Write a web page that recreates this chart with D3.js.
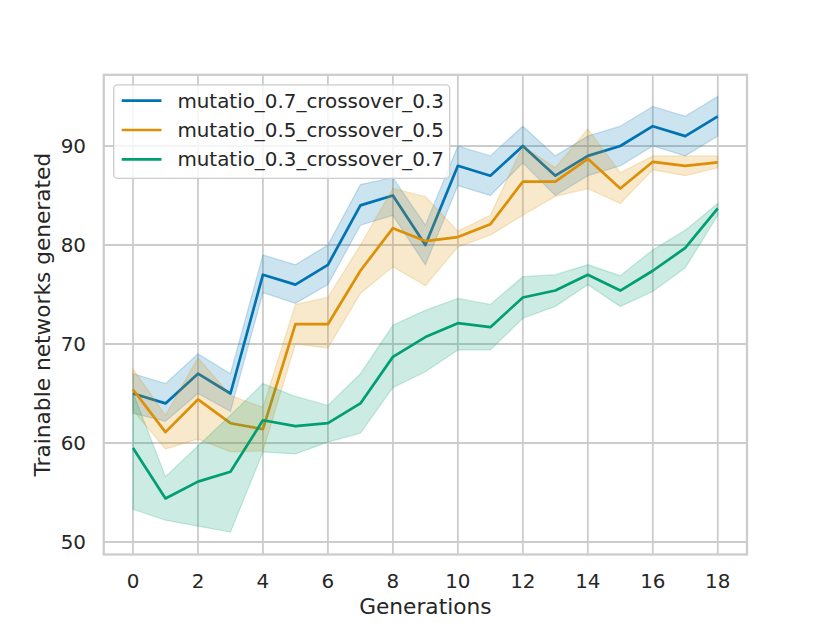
<!DOCTYPE html>
<html>
<head>
<meta charset="utf-8">
<script src="https://cdn.jsdelivr.net/npm/d3@7"></script>
<style>
    body { margin: 0; background: #fff; }
    text { font-family: "DejaVu Sans", sans-serif; fill: #262626; }
</style>
</head>
<body>
<div class="svg"></div>
<script>
var generations = [0, 1, 2, 3, 4, 5, 6, 7, 8, 9, 10, 11, 12, 13, 14, 15, 16, 17, 18];
var xTicks = [0, 2, 4, 6, 8, 10, 12, 14, 16, 18];
var yTicks = [50, 60, 70, 80, 90];

var seriesNames = ["mutatio_0.7_crossover_0.3", "mutatio_0.5_crossover_0.5", "mutatio_0.3_crossover_0.7"];

var blueMean = [65, 64, 67, 65, 77, 76, 78, 84, 85, 80, 88, 87, 90, 87, 89, 90, 92, 91, 93];
var blueLow = [63, 62.2, 65, 63.2, 75.2, 74.1, 76, 82, 83, 78, 86, 85, 88.3, 85, 87, 88, 90, 89, 91];
var blueHigh = [67, 66, 69, 67, 79, 78, 80, 86.1, 86.8, 82, 90, 89, 92, 89, 91, 92, 94, 93, 95];

var orangeMean = [65.4, 61.1, 64.4, 62.0, 61.4, 72.0, 72.0, 77.4, 81.7, 80.4, 80.8, 82.1, 86.4, 86.4, 88.7, 85.7, 88.4, 88.0, 88.35];
var orangeLow = [63.3, 59.4, 60.4, 59.1, 59.2, 70, 69.6, 75.1, 77.8, 75.9, 79.8, 81, 83, 84.9, 85.7, 84.2, 87.6, 87, 87.8];
var orangeHigh = [67.5, 62.8, 68.6, 64.8, 63.6, 74, 74.7, 80, 85.7, 84.9, 81.4, 83, 90, 87.8, 91.7, 87.3, 89, 89, 89];

var greenMean = [59.5, 54.4, 56.1, 57.1, 62.3, 61.7, 62.0, 64.0, 68.7, 70.7, 72.1, 71.7, 74.7, 75.4, 77.0, 75.4, 77.4, 79.7, 83.7];
var greenLow = [53.3, 52.2, 51.6, 51.0, 59.1, 58.9, 60.1, 61.0, 65.6, 67.2, 69.4, 69.4, 72.6, 73.8, 76.0, 73.8, 75.3, 77.7, 83.0];
var greenHigh = [65.1, 56.6, 59.7, 62.8, 66.0, 64.7, 63.8, 67.0, 71.9, 73.4, 74.6, 74.0, 76.8, 77.0, 78.0, 76.9, 79.5, 81.5, 84.2];

var colors = ["#0173b2", "#de8f05", "#029e73"];

var width = 830,
    height = 623;
var pLeft = 103.75, pRight = 747, pTop = 74.8, pBottom = 554.5;

var svg = d3.select(".svg").append("svg")
    .attr("width", width)
    .attr("height", height);

var x = d3.scaleLinear().domain([-0.9, 18.9]).range([pLeft, pRight]);
var y = d3.scaleLinear().domain([48.74, 97.19]).range([pBottom, pTop]);

// grid
svg.append("g").selectAll("line")
    .data(xTicks)
    .enter().append("line")
    .attr("x1", function (d) { return x(d); })
    .attr("x2", function (d) { return x(d); })
    .attr("y1", pTop).attr("y2", pBottom)
    .attr("stroke", "#cccccc").attr("stroke-width", 1.8);
svg.append("g").selectAll("line")
    .data(yTicks)
    .enter().append("line")
    .attr("y1", function (d) { return y(d); })
    .attr("y2", function (d) { return y(d); })
    .attr("x1", pLeft).attr("x2", pRight)
    .attr("stroke", "#cccccc").attr("stroke-width", 1.8);

var series = [
    {mean: blueMean, low: blueLow, high: blueHigh},
    {mean: orangeMean, low: orangeLow, high: orangeHigh},
    {mean: greenMean, low: greenLow, high: greenHigh}
];

var line = d3.line()
    .x(function (d, i) { return x(generations[i]); })
    .y(function (d) { return y(d); });

series.forEach(function (s, k) {
    svg.append("path")
        .attr("d", line(s.mean))
        .attr("fill", "none")
        .attr("stroke", colors[k])
        .attr("stroke-width", 2.7)
        .attr("stroke-linejoin", "round");

    var band = d3.area()
        .x(function (d, i) { return x(generations[i]); })
        .y0(function (d, i) { return y(s.low[i]); })
        .y1(function (d, i) { return y(s.high[i]); });
    svg.append("path")
        .attr("d", band(s.mean))
        .attr("fill", colors[k])
        .attr("fill-opacity", 0.2)
        .attr("stroke", colors[k])
        .attr("stroke-opacity", 0.2)
        .attr("stroke-width", 1.3);
});

// frame
svg.append("rect")
    .attr("x", pLeft).attr("y", pTop)
    .attr("width", pRight - pLeft).attr("height", pBottom - pTop)
    .attr("fill", "none")
    .attr("stroke", "#cccccc")
    .attr("stroke-width", 2.25);

// tick labels
svg.append("g").selectAll("text")
    .data(xTicks)
    .enter().append("text")
    .attr("x", function (d) { return x(d); })
    .attr("y", 588)
    .attr("text-anchor", "middle")
    .style("font-size", "19.9px")
    .text(function (d) { return d; });
svg.append("g").selectAll("text")
    .data(yTicks)
    .enter().append("text")
    .attr("x", 86)
    .attr("y", function (d) { return y(d) + 7.2; })
    .attr("text-anchor", "end")
    .style("font-size", "19.9px")
    .text(function (d) { return d; });

// axis labels
svg.append("text")
    .attr("x", (pLeft + pRight) / 2)
    .attr("y", 614)
    .attr("text-anchor", "middle")
    .style("font-size", "21.7px")
    .text("Generations");
svg.append("text")
    .attr("transform", "translate(50," + ((pTop + pBottom) / 2) + ") rotate(-90)")
    .attr("text-anchor", "middle")
    .style("font-size", "21.7px")
    .text("Trainable networks generated");

// legend
var lg = svg.append("g");
lg.append("rect")
    .attr("x", 113.7).attr("y", 84.8)
    .attr("width", 336).attr("height", 93.5)
    .attr("rx", 4)
    .attr("fill", "#ffffff").attr("fill-opacity", 0.8)
    .attr("stroke", "#cccccc").attr("stroke-width", 1.3);
var rowY = [100.7, 130, 159.3];
seriesNames.forEach(function (name, k) {
    lg.append("line")
        .attr("x1", 121.7).attr("x2", 161.5)
        .attr("y1", rowY[k]).attr("y2", rowY[k])
        .attr("stroke", colors[k]).attr("stroke-width", 2.7);
    lg.append("text")
        .attr("x", 177.4)
        .attr("y", rowY[k] + 7)
        .style("font-size", "19.9px")
        .text(name);
});
</script>
</body>
</html>
